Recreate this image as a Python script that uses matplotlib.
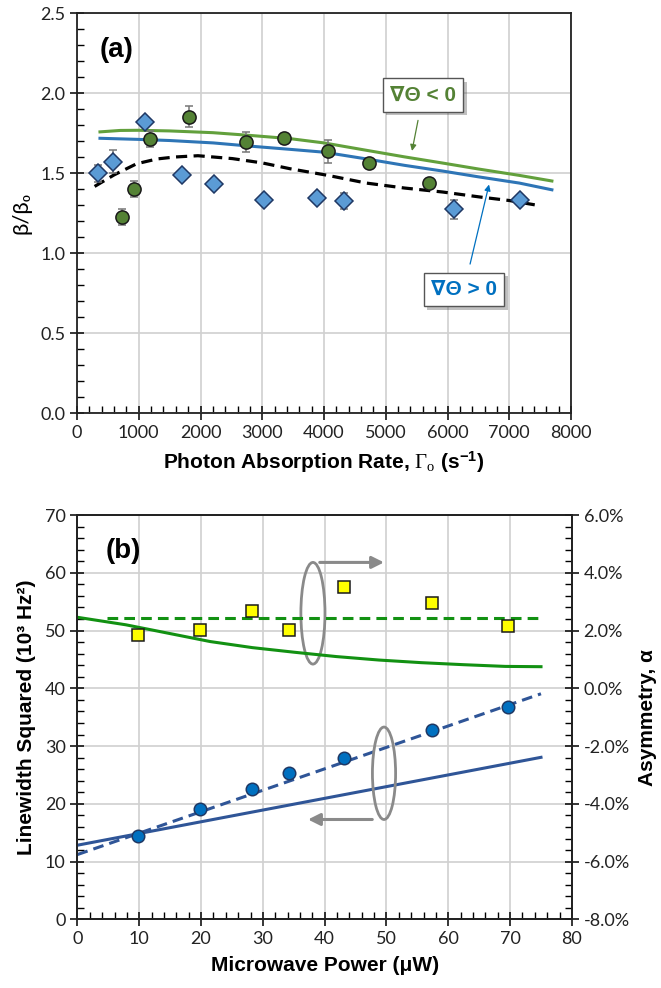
import matplotlib
matplotlib.use("Agg")
import matplotlib.pyplot as plt
import matplotlib.patheffects as pe
from matplotlib.patches import Ellipse
from matplotlib.ticker import MultipleLocator, FuncFormatter

plt.rcParams['font.family'] = ['Lato', 'DejaVu Sans']
plt.rcParams['mathtext.fontset'] = 'custom'
plt.rcParams['mathtext.rm'] = 'Liberation Serif'
plt.rcParams['mathtext.it'] = 'Liberation Serif:italic'
plt.rcParams['mathtext.bf'] = 'Liberation Sans:bold'

# ---- panel (a) data ----
diam_x = [341, 582, 1103, 1704, 2218, 3030, 3879, 4319, 6110, 7170]
diam_y = [1.50, 1.573, 1.819, 1.491, 1.435, 1.335, 1.343, 1.326, 1.276, 1.335]
diam_err = [0.055, 0.073, 0, 0, 0, 0, 0, 0.05, 0.06, 0]

circ_x = [731, 923, 1177, 1816, 2733, 3346, 4071, 4728, 5701]
circ_y = [1.226, 1.399, 1.713, 1.853, 1.696, 1.721, 1.637, 1.564, 1.441]
circ_err = [0.052, 0.05, 0.05, 0.065, 0.06, 0, 0.073, 0, 0]

neg_x = [372, 700, 1000, 1500, 2200, 2800, 3445, 4000, 4685, 5300, 5924, 6500, 7163, 7690]
neg_y = [1.759, 1.768, 1.769, 1.765, 1.754, 1.737, 1.717, 1.690, 1.644, 1.603, 1.564, 1.527, 1.487, 1.452]

pos_x = [372, 1000, 1500, 2206, 2800, 3445, 4000, 4685, 5300, 5924, 6500, 7163, 7690]
pos_y = [1.719, 1.712, 1.705, 1.690, 1.670, 1.650, 1.632, 1.590, 1.550, 1.514, 1.478, 1.439, 1.397]

dash_x = [285, 600, 967, 1300, 1586, 1958, 2516, 3000, 3445, 4064, 4685, 5304, 5924, 6543, 7000, 7504]
dash_y = [1.418, 1.49, 1.56, 1.590, 1.602, 1.610, 1.592, 1.565, 1.529, 1.487, 1.439, 1.408, 1.383, 1.351, 1.330, 1.297]

# ---- panel (b) data ----
pw = [9.8, 19.9, 28.2, 34.3, 43.2, 57.4, 69.7]
lw2 = [14.4, 19.13, 22.64, 25.41, 27.94, 32.84, 36.81]
asym = [0.0184, 0.0202, 0.0268, 0.0202, 0.0352, 0.0297, 0.0217]

asym_mean = 0.0244
mean_x = [4.8, 75]

asym_fit_x = [0, 7.84, 14.66, 21.48, 28.3, 35.1, 41.9, 48.8, 55.6, 62.4, 69.2, 75]
asym_fit_y = [0.0246, 0.0220, 0.0191, 0.0162, 0.0141, 0.0125, 0.0110, 0.0098, 0.0089, 0.0082, 0.0076, 0.0075]

lin_x = [0, 75]
lin_solid = [12.85, 28.06]
lin_dash = [11.23, 39.06]

fig = plt.figure(figsize=(6.61, 9.88), dpi=100)

label_font = dict(family=['Liberation Sans', 'DejaVu Sans'], weight='bold')


def style_axis(ax):
    ax.tick_params(which='major', direction='inout', length=10, width=1.1,
                   labelsize=13, colors='black', labelcolor='#222222')
    ax.tick_params(which='minor', direction='in', length=5, width=1.0)
    for s in ax.spines.values():
        s.set_linewidth(1.3)
        s.set_color('#222222')


# ======== (a) ========
ax1 = fig.add_axes([0.1165, 0.5817, 0.7474, 0.4048])
ax1.set_xlim(0, 8000)
ax1.set_ylim(0, 2.5)
ax1.xaxis.set_major_locator(MultipleLocator(1000))
ax1.xaxis.set_minor_locator(MultipleLocator(200))
ax1.yaxis.set_major_locator(MultipleLocator(0.5))
ax1.yaxis.set_minor_locator(MultipleLocator(0.1))
ax1.yaxis.set_major_formatter(FuncFormatter(lambda v, p: f'{v:.1f}'))
ax1.grid(True, which='major', color='#d0d0d0', lw=1.2)
ax1.set_axisbelow(True)
style_axis(ax1)
ax1.tick_params(top=False, right=False)

ax1.plot(neg_x, neg_y, color='#62A03C', lw=2.2, zorder=3)
ax1.plot(pos_x, pos_y, color='#2E75B6', lw=2.2, zorder=3)
ax1.plot(dash_x, dash_y, color='black', lw=2.3, ls=(0, (3.5, 2)), zorder=3)

ax1.errorbar(circ_x, circ_y, yerr=circ_err, fmt='o', ms=9.5, mfc='#548235',
             mec='#1a1a1a', mew=1.1, ecolor='#777777', elinewidth=1.1,
             capsize=3, zorder=4)
ax1.errorbar(diam_x, diam_y, yerr=diam_err, fmt='D', ms=9.5, mfc='#5B9BD5',
             mec='#1F3864', mew=1.1, ecolor='#777777', elinewidth=1.1,
             capsize=3, zorder=4)

ax1.text(360, 2.27, '(a)', fontsize=20, ha='left', va='center', **label_font)

box = dict(boxstyle='square,pad=0.35', fc='white', ec='#555555', lw=1.0)
ta = ax1.annotate('∇Θ < 0', xy=(5425, 1.64), xytext=(5603, 1.99),
                  fontsize=15, color='#548235', ha='center', va='center',
                  bbox=box, **label_font,
                  arrowprops=dict(arrowstyle='-|>', color='#548235', lw=0.9,
                                  mutation_scale=9, shrinkA=6, shrinkB=0))
tb = ax1.annotate('∇Θ > 0', xy=(6672, 1.43), xytext=(6267, 0.774),
                  fontsize=15, color='#0070C0', ha='center', va='center',
                  bbox=box, **label_font,
                  arrowprops=dict(arrowstyle='-|>', color='#0070C0', lw=0.9,
                                  mutation_scale=9, shrinkA=6, shrinkB=0))
for t in (ta, tb):
    t.get_bbox_patch().set_path_effects(
        [pe.withSimplePatchShadow(offset=(2.5, -2.5), alpha=0.35)])

ax1.set_xlabel('Photon Absorption Rate, $\\Gamma_{\\mathrm{o}}$ (s$^{\\mathbf{-1}}$)',
               fontsize=15, labelpad=6, **label_font)
ax1.set_ylabel('β/β₀', fontsize=16, labelpad=6)

# ======== (b) ========
ax2 = fig.add_axes([0.1172, 0.0694, 0.748, 0.4093])
ax2.set_xlim(0, 80)
ax2.set_ylim(0, 70)
ax2.xaxis.set_major_locator(MultipleLocator(10))
ax2.xaxis.set_minor_locator(MultipleLocator(2))
ax2.yaxis.set_major_locator(MultipleLocator(10))
ax2.yaxis.set_minor_locator(MultipleLocator(2))
ax2.grid(True, which='major', color='#d0d0d0', lw=1.2)
ax2.set_axisbelow(True)
style_axis(ax2)
ax2.tick_params(top=False, right=False)

ax3 = ax2.twinx()
ax3.set_ylim(-0.08, 0.06)
ax3.yaxis.set_major_locator(MultipleLocator(0.02))
ax3.yaxis.set_minor_locator(MultipleLocator(0.004))
ax3.yaxis.set_major_formatter(FuncFormatter(lambda v, p: f'{v * 100:.1f}%'))
style_axis(ax3)

ax2.plot(lin_x, lin_solid, color='#2F5597', lw=2.2, zorder=3)
ax2.plot(lin_x, lin_dash, color='#2F5597', lw=2.2, ls=(0, (3.5, 2)), zorder=3)
ax2.plot(pw, lw2, 'o', ms=9, mfc='#0070C0', mec='#1F3864', mew=1.1, zorder=4)

ax3.plot(asym_fit_x, asym_fit_y, color='#129112', lw=2.2)
ax3.plot(mean_x, [asym_mean, asym_mean], color='#129112', lw=2.2, ls=(0, (3.5, 2)))
ax3.plot(pw, asym, 's', ms=8, mfc='#FFFF00', mec='#1a1a1a', mew=1.1, zorder=4)

ax2.text(4.5, 63.7, '(b)', fontsize=20, ha='left', va='center', **label_font)

grey = '#8a8a8a'
ax2.add_patch(Ellipse((38.1, 53.0), 3.9, 17.6, fill=False, ec=grey, lw=2.0, zorder=5))
ax2.add_patch(Ellipse((49.6, 25.3), 3.75, 16.0, fill=False, ec=grey, lw=2.0, zorder=5))
ax2.annotate('', xy=(49.6, 61.8), xytext=(39.2, 61.8),
             arrowprops=dict(arrowstyle='-|>', color=grey, lw=2.2,
                             mutation_scale=18, shrinkA=0, shrinkB=0), zorder=5)
ax2.annotate('', xy=(37.3, 17.3), xytext=(47.7, 17.3),
             arrowprops=dict(arrowstyle='-|>', color=grey, lw=2.2,
                             mutation_scale=18, shrinkA=0, shrinkB=0), zorder=5)

ax2.set_xlabel('Microwave Power (μW)', fontsize=15, labelpad=6, **label_font)
ax2.set_ylabel('Linewidth Squared (10³ Hz²)', fontsize=15, labelpad=6, **label_font)
ax3.set_ylabel('Asymmetry, α', fontsize=15, labelpad=6, **label_font)

fig.savefig('out.png', dpi=100)
